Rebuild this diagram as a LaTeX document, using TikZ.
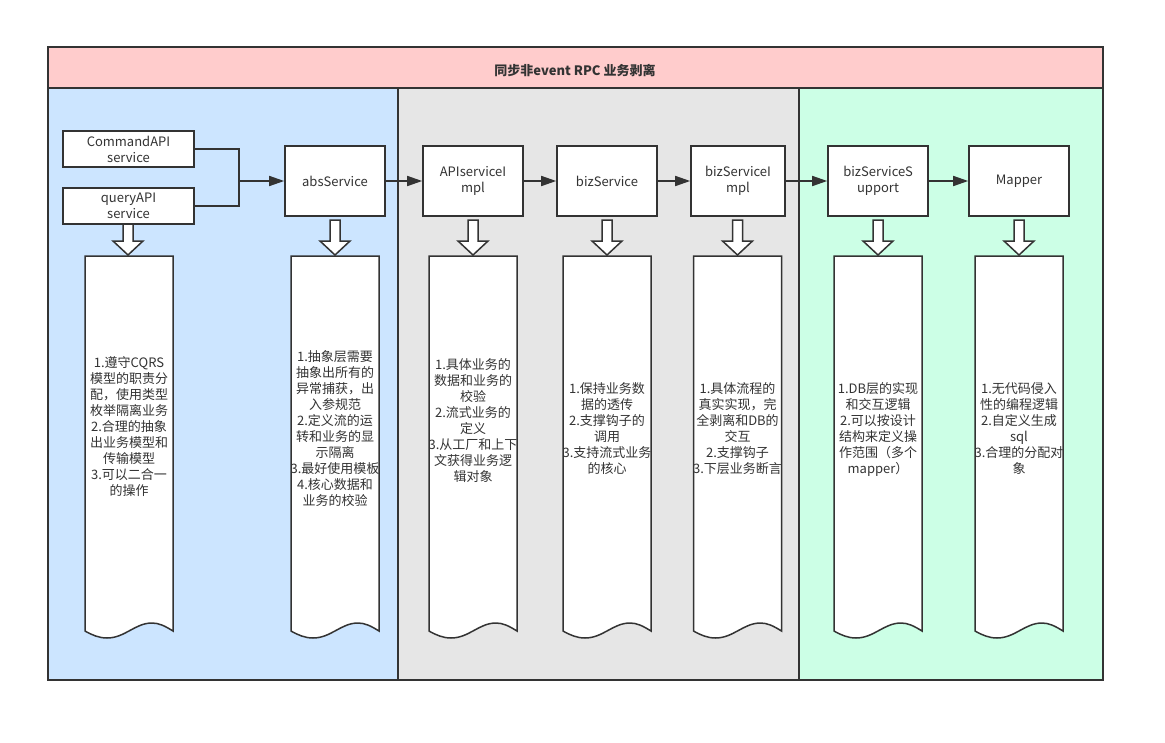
\documentclass[tikz,border=0pt]{standalone}
\usepackage{fontspec}
\setmainfont{Noto Sans CJK SC}
\usetikzlibrary{arrows.meta}
\definecolor{ln}{HTML}{333333}
\definecolor{pinkb}{HTML}{FFCCCC}
\definecolor{blueb}{HTML}{CCE5FF}
\definecolor{grayb}{HTML}{E6E6E6}
\definecolor{greenb}{HTML}{CCFFE6}
\newcommand\blkarrow[2]{%
  \filldraw[fill=white,draw=ln,line width=1.5pt,line join=miter]
  ({#1-5},#2) -- ({#1+5},#2) -- ({#1+5},241) -- ({#1+15},241) -- (#1,255)
  -- ({#1-15},241) -- ({#1-5},241) -- cycle;}
\newcommand\docsh[4]{%
  \filldraw[fill=white,draw=ln,line width=1.5pt]
  (#2,256) -- ({#2+88},256) -- ({#2+88},631)
  .. controls ({#2+80},626) and ({#2+74},623) .. ({#2+67},623)
  .. controls ({#2+50},623) and ({#2+40},638) .. ({#2+22},638)
  .. controls ({#2+14},638) and ({#2+7},635) .. (#2,631) -- cycle;
  \node[doctext] (#1) at ({#2+44},#3) {#4};}
\begin{document}
\begin{tikzpicture}[x=1pt,y=-1pt,
  box/.style={draw=ln,fill=white,line width=1.6pt,inner sep=0pt,align=center,
    font=\fontsize{13}{16}\selectfont,text=ln},
  doctext/.style={align=center,inner sep=0pt,font=\fontsize{13}{16}\selectfont,text=ln},
  conn/.style={draw=ln,line width=1.6pt,-{Triangle[length=15pt,width=10pt]}},
  plain/.style={draw=ln,line width=1.6pt}]
\useasboundingbox (0,0) rectangle (1165,742);
% regions
\fill[pinkb] (48,47) rectangle (1103,88);
\fill[blueb] (48,88) rectangle (398,680);
\fill[grayb] (398,88) rectangle (799,680);
\fill[greenb] (799,88) rectangle (1103,680);
\draw[plain] (48,47) rectangle (1103,680);
\draw[plain] (48,88) -- (1103,88);
\draw[plain] (398,88) -- (398,680);
\draw[plain] (799,88) -- (799,680);
\node[font=\bfseries\fontsize{13}{16}\selectfont,text=ln] (title) at (575,70) {同步非event RPC 业务剥离};
% service boxes
\node[box,minimum width=131pt,minimum height=36pt] (cmd) at (128.5,149) {CommandAPI\\service};
\node[box,minimum width=131pt,minimum height=36pt] (qry) at (128.5,206) {queryAPI\\service};
\node[box,minimum width=100pt,minimum height=70pt] (abs) at (335,181) {absService};
\node[box,minimum width=100pt,minimum height=70pt] (api) at (473,181) {APIserviceI\\mpl};
\node[box,minimum width=100pt,minimum height=70pt] (biz) at (607,181) {bizService};
\node[box,minimum width=94pt,minimum height=70pt] (bimpl) at (738,181) {bizServiceI\\mpl};
\node[box,minimum width=100pt,minimum height=70pt] (sup) at (878,181) {bizServiceS\\upport};
\node[box,minimum width=100pt,minimum height=70pt] (map) at (1019,181) {Mapper};
\coordinate (j) at (239,181);
% connectors
\draw[plain] (cmd.east) -| (j);
\draw[plain] (qry.east) -| (j);
\draw[conn] (j) -- (abs.west);
\draw[conn] (abs) -- (api);
\draw[conn] (api) -- (biz);
\draw[conn] (biz) -- (bimpl);
\draw[conn] (bimpl) -- (sup);
\draw[conn] (sup) -- (map);
% block arrows
\blkarrow{128}{224}
\blkarrow{335}{220}
\blkarrow{473}{220}
\blkarrow{607}{220}
\blkarrow{737.5}{220}
\blkarrow{878}{220}
\blkarrow{1019}{220}
% documents
\docsh{d1}{85}{427}{1.遵守CQRS\\模型的职责分\\配，使用类型\\枚举隔离业务\\2.合理的抽象\\出业务模型和\\传输模型\\3.可以二合一\\的操作}
\docsh{d2}{291}{429}{1.抽象层需要\\抽象出所有的\\异常捕获，出\\入参规范\\2.定义流的运\\转和业务的显\\示隔离\\3.最好使用模板\\4.核心数据和\\业务的校验}
\docsh{d3}{429}{421}{1.具体业务的\\数据和业务的\\校验\\2.流式业务的\\定义\\3.从工厂和上下\\文获得业务逻\\辑对象}
\docsh{d4}{563}{429}{1.保持业务数\\据的透传\\2.支撑钩子的\\调用\\3.支持流式业务\\的核心}
\docsh{d5}{693.5}{429}{1.具体流程的\\真实实现，完\\全剥离和DB的\\交互\\2.支撑钩子\\3.下层业务断言}
\docsh{d6}{834}{429}{1.DB层的实现\\和交互逻辑\\2.可以按设计\\结构来定义操\\作范围（多个\\mapper）}
\docsh{d7}{975}{429}{1.无代码侵入\\性的编程逻辑\\2.自定义生成\\sql\\3.合理的分配对\\象}
\end{tikzpicture}
\end{document}
